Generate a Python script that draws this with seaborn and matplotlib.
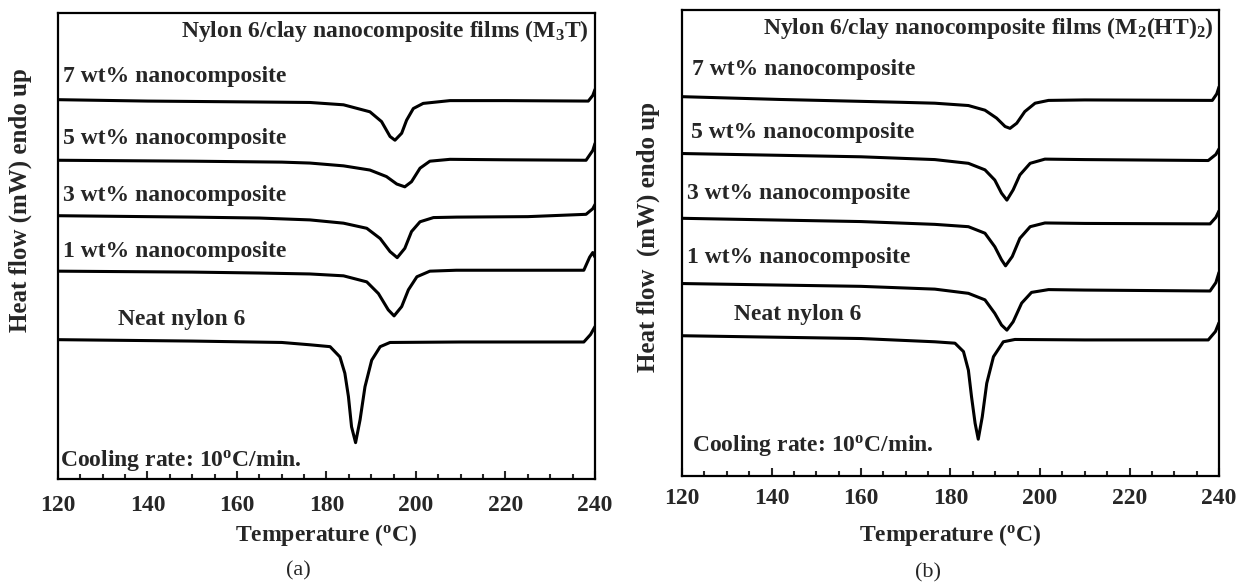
import pandas as pd
import numpy as np
import matplotlib
matplotlib.use("Agg")
import matplotlib.pyplot as plt
from matplotlib.ticker import MultipleLocator
import seaborn as sns

sns.set_style("ticks")
plt.rcParams['font.family'] = ['Liberation Serif', 'DejaVu Serif']
plt.rcParams['font.weight'] = 'bold'
plt.rcParams['mathtext.fontset'] = 'custom'
plt.rcParams['mathtext.rm'] = 'Liberation Serif:bold'
plt.rcParams['mathtext.it'] = 'Liberation Serif:bold'
plt.rcParams['mathtext.bf'] = 'Liberation Serif:bold'

########################################PANEL (a) M3T#############################################

a_7_T = [120, 140, 165, 176.3, 183.8, 189.7, 192.3, 194.2, 195.3, 196.8, 197.9, 199.4, 201.6, 207.6, 220, 238.5, 239.5, 240]
a_7_H = [81.4, 81.1, 80.9, 80.8, 80.3, 78.8, 76.7, 73.5, 72.7, 74.2, 77.0, 79.5, 80.6, 81.2, 81.2, 81.1, 82.3, 83.6]

a_5_T = [120, 150, 170, 176.3, 183.8, 189.7, 193.4, 195.7, 197.5, 199.0, 200.9, 203.1, 207.6, 220, 238, 239.5, 240]
a_5_H = [68.4, 68.2, 68.0, 67.8, 67.2, 66.3, 64.9, 63.3, 62.7, 63.8, 66.7, 68.2, 68.6, 68.5, 68.4, 70.5, 72.0]

a_3_T = [120, 150, 165, 176.3, 183.8, 189.0, 192.0, 194.2, 195.8, 197.5, 199.0, 200.9, 203.9, 209.1, 225, 238, 239.5, 240]
a_3_H = [56.5, 56.2, 56.0, 55.6, 54.9, 53.8, 51.6, 48.8, 47.5, 49.5, 53.1, 55.2, 56.1, 56.2, 56.3, 56.8, 58.0, 58.9]

a_1_T = [120, 150, 165, 176.3, 183.8, 189.0, 191.6, 193.8, 195.1, 196.8, 198.3, 200.2, 203.1, 209, 225, 237.5, 238.8, 239.5, 240]
a_1_H = [44.6, 44.4, 44.2, 44.0, 43.6, 42.3, 39.8, 36.3, 35.0, 37.0, 40.6, 43.4, 44.6, 44.8, 44.8, 44.8, 47.6, 48.6, 47.6]

a_0_T = [120, 150, 170, 176.3, 180.8, 183.0, 184.1, 184.9, 185.6, 186.5, 187.5, 188.6, 190.1, 192.0, 194.2, 210, 237.5, 239, 240]
a_0_H = [29.9, 29.6, 29.3, 28.8, 28.4, 26.2, 22.7, 17.7, 11.2, 7.8, 12.7, 19.8, 25.5, 28.4, 29.3, 29.4, 29.4, 31.0, 32.7]

########################################PANEL (b) M2(HT)2#############################################

b_7_T = [120, 142, 168.8, 176.5, 184.0, 187.7, 190.3, 192.2, 193.3, 194.8, 196.6, 198.9, 201.9, 210, 238.5, 239.5, 240]
b_7_H = [81.4, 80.8, 80.2, 80.0, 79.5, 78.5, 76.8, 75.0, 74.6, 75.7, 78.2, 80.0, 80.6, 80.7, 80.6, 82.0, 83.5]

b_5_T = [120, 160, 176.5, 184.0, 187.7, 189.9, 191.4, 192.6, 194.0, 195.5, 197.8, 201.1, 210, 237.6, 239.3, 240]
b_5_H = [69.2, 68.5, 67.9, 67.1, 65.7, 63.5, 60.7, 59.2, 61.4, 64.6, 67.1, 68.0, 67.9, 67.7, 69.0, 70.2]

b_3_T = [120, 160, 176.5, 184.0, 187.7, 189.9, 191.4, 192.3, 193.8, 195.5, 197.8, 201.1, 210, 238, 239.3, 240]
b_3_H = [55.3, 54.6, 54.0, 53.5, 52.1, 49.2, 46.4, 45.1, 47.1, 51.0, 53.5, 54.3, 54.2, 54.1, 55.5, 56.9]

b_1_T = [120, 160, 176.5, 184.0, 187.7, 189.9, 191.4, 192.6, 194.0, 195.9, 198.1, 201.9, 210, 238, 239.3, 240]
b_1_H = [41.3, 40.7, 40.1, 39.2, 37.8, 34.9, 32.4, 31.3, 33.1, 37.1, 39.4, 40.0, 39.9, 39.7, 41.5, 43.7]

b_0_T = [120, 160, 176.5, 181.0, 182.9, 184.0, 184.7, 185.5, 186.2, 187.1, 188.1, 189.6, 191.8, 194.4, 210, 237.6, 239.2, 240]
b_0_H = [30.1, 29.5, 28.8, 28.5, 26.7, 22.7, 17.0, 11.3, 7.9, 12.7, 19.9, 25.6, 28.8, 29.3, 29.2, 29.2, 31.0, 32.9]

curve_labels = ["7 wt% nanocomposite", "5 wt% nanocomposite", "3 wt% nanocomposite",
                "1 wt% nanocomposite", "Neat nylon 6"]

a_curves = [(a_7_T, a_7_H), (a_5_T, a_5_H), (a_3_T, a_3_H), (a_1_T, a_1_H), (a_0_T, a_0_H)]
b_curves = [(b_7_T, b_7_H), (b_5_T, b_5_H), (b_3_T, b_3_H), (b_1_T, b_1_H), (b_0_T, b_0_H)]

# label positions (temperature, heat flow baseline)
a_label_pos = [(121.1, 85.2), (121.2, 71.8), (121.2, 59.6), (121.2, 47.6), (133.3, 33.1)]
b_label_pos = [(122.2, 86.0), (122.1, 72.6), (121.1, 59.5), (121.1, 45.7), (131.6, 33.5)]

fig = plt.figure(figsize=(12.47, 5.85), dpi=100)
ax_a = fig.add_axes([58 / 1247, 1 - 479 / 585, 537 / 1247, 466 / 585])
ax_b = fig.add_axes([682 / 1247, 1 - 476 / 585, 537 / 1247, 466 / 585])


def draw_panel(ax, curves, label_pos, title, title_x, cool_pos, pad):
    for (T, H), name in zip(curves, curve_labels):
        df = pd.DataFrame({'T': T, 'H': H})
        sns.lineplot(data=df, x='T', y='H', ax=ax, color='black', linewidth=2.2,
                     sort=False, estimator=None)
    for name, (tx, ty) in zip(curve_labels, label_pos):
        ax.text(tx, ty, name, fontsize=17, fontweight='bold', va='baseline', ha='left')
    ax.text(title_x, 94.9, title, fontsize=17, fontweight='bold', va='baseline', ha='right')
    ax.text(cool_pos[0], cool_pos[1], r"Cooling rate: 10$^{\mathrm{o}}$C/min.", fontsize=17,
            fontweight='bold', va='baseline', ha='left')
    ax.set_xlim(120, 240)
    ax.set_ylim(0, 100)
    ax.set_xlabel("")
    ax.set_ylabel("")
    ax.set_yticks([])
    ax.xaxis.set_major_locator(MultipleLocator(20))
    ax.xaxis.set_minor_locator(MultipleLocator(5))
    ax.tick_params(axis='x', which='major', direction='in', length=6, width=1.5,
                   labelsize=17, pad=pad, top=False)
    ax.tick_params(axis='x', which='minor', direction='in', length=3.6, width=1.5, top=False)
    for lab in ax.get_xticklabels():
        lab.set_fontweight('bold')
    for sp in ax.spines.values():
        sp.set_visible(True)
        sp.set_linewidth(1.6)
        sp.set_color('black')


draw_panel(ax_a, a_curves, a_label_pos, r"Nylon 6/clay nanocomposite films (M$_3$T)", 238.7,
           (120.4, 2.8), 11.5)
draw_panel(ax_b, b_curves, b_label_pos, r"Nylon 6/clay nanocomposite films (M$_2$(HT)$_2$)", 238.9,
           (122.2, 5.4), 9)

fig.text(20 / 1247, 1 - 200 / 585, "Heat flow (mW) endo up", rotation=90, fontsize=18,
         fontweight='bold', ha='center', va='center')
fig.text(648 / 1247, 1 - 237 / 585, "Heat flow  (mW) endo up", rotation=90, fontsize=18,
         fontweight='bold', ha='center', va='center')

fig.text(326.5 / 1247, 1 - 535 / 585, r"Temperature ($^{\mathrm{o}}$C)", fontsize=17,
         fontweight='bold', ha='center', va='center')
fig.text(950.5 / 1247, 1 - 535 / 585, r"Temperature ($^{\mathrm{o}}$C)", fontsize=17,
         fontweight='bold', ha='center', va='center')

fig.text(298 / 1247, 1 - 571 / 585, "(a)", fontsize=16, fontweight='normal', ha='center', va='center')
fig.text(928 / 1247, 1 - 573 / 585, "(b)", fontsize=16, fontweight='normal', ha='center', va='center')

plt.savefig('out.png', dpi=100)
